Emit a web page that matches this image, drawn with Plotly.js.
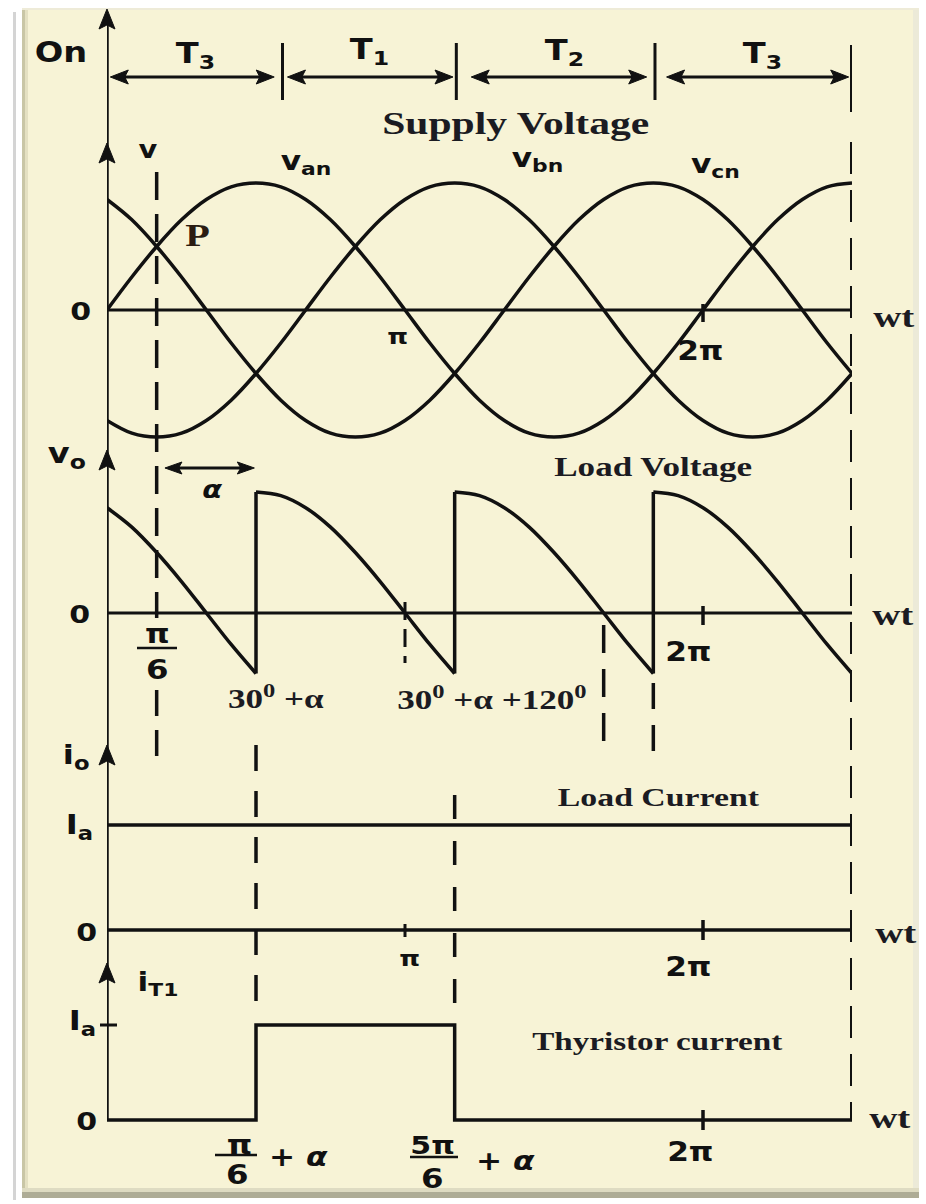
<!DOCTYPE html>
<html>
<head>
<meta charset="utf-8">
<script src="https://cdn.plot.ly/plotly-3.0.1.min.js"></script>
<style>
  html, body { margin: 0; padding: 0; background: #ffffff; }
  #chart { width: 926px; height: 1204px; }
  /* the lettering of this figure is set wide */
  #chart text.annotation-text { transform-box: fill-box; transform-origin: center; transform: scaleX(1.2); }
  #chart text.annotation-text[style*="Liberation Serif"] { transform: scaleX(1.3); }
</style>
</head>
<body>
<div id="chart"></div>
<script>
// Electrical angle samples (degrees) for the three phase voltages, per unit of peak
const angleDeg = [0, 15, 30, 45, 60, 75, 90, 105, 120, 135, 150, 165, 180, 195, 210, 225,
                  240, 255, 270, 285, 300, 315, 330, 345, 360, 375, 390, 405, 420, 435, 450];
const vAN = [0, 0.26, 0.5, 0.71, 0.87, 0.97, 1, 0.97, 0.87, 0.71, 0.5, 0.26, 0, -0.26, -0.5, -0.71,
             -0.87, -0.97, -1, -0.97, -0.87, -0.71, -0.5, -0.26, 0, 0.26, 0.5, 0.71, 0.87, 0.97, 1];
const vBN = [-0.87, -0.97, -1, -0.97, -0.87, -0.71, -0.5, -0.26, 0, 0.26, 0.5, 0.71, 0.87, 0.97, 1, 0.97,
             0.87, 0.71, 0.5, 0.26, 0, -0.26, -0.5, -0.71, -0.87, -0.97, -1, -0.97, -0.87, -0.71, -0.5];
const vCN = [0.87, 0.71, 0.5, 0.26, 0, -0.26, -0.5, -0.71, -0.87, -0.97, -1, -0.97, -0.87, -0.71, -0.5, -0.26,
             0, 0.26, 0.5, 0.71, 0.87, 0.97, 1, 0.97, 0.87, 0.71, 0.5, 0.26, 0, -0.26, -0.5];

// Firing angle and the resulting firing instants: 30° + α, 30° + α + 120°, 30° + α + 240°
const alphaDeg = 60;
const firingDeg = [30 + alphaDeg, 30 + alphaDeg + 120, 30 + alphaDeg + 240];
// Phase that feeds the load in each interval (T3, T1, T2, T3)
const conductionOrder = [vCN, vAN, vBN, vCN];
// Constant load current (per unit Ia)
const loadCurrentIa = 1;
// Thyristor on-time brackets across the top, in degrees
const gateBounds = [0, 106, 211, 331, 450];
const gateNames = ['T<sub>3</sub>', 'T<sub>1</sub>', 'T<sub>2</sub>', 'T<sub>3</sub>'];

// ---- page geometry helpers (pixel -> paper) ----
const W = 926, H = 1204;
const X_LEFT = 107, X_RIGHT = 852;
const px = v => v / W;
const py = v => 1 - v / H;
const INK = '#111111';
const SANS = '"DejaVu Sans", Arial, sans-serif';
const SERIF = '"Liberation Serif", "Times New Roman", serif';
const X_END = angleDeg[angleDeg.length - 1];
const xPix = d => X_LEFT + (d / X_END) * (X_RIGHT - X_LEFT);

function yPanel(zeroPx, unitPx, topPx, botPx) {
  return {
    domain: [py(botPx), py(topPx)],
    range: [-(botPx - zeroPx) / unitPx, (zeroPx - topPx) / unitPx],
    visible: false, fixedrange: true, anchor: 'x'
  };
}

// ---- traces ----
const traces = [];
const curve = (x, y, axis, shape) => ({
  x, y, type: 'scatter', mode: 'lines', xaxis: 'x', yaxis: axis, hoverinfo: 'skip',
  line: { color: INK, width: 3.5, shape: shape || 'spline' }
});

// Supply voltages
[vAN, vBN, vCN].forEach(v => traces.push(curve(angleDeg, v, 'y')));

// Load voltage: pieces of the conducting phase between firing instants
const bounds = [angleDeg[0], ...firingDeg, X_END];
conductionOrder.forEach((wave, k) => {
  const xs = [], ys = [];
  angleDeg.forEach((a, i) => {
    if (a >= bounds[k] && a <= bounds[k + 1]) { xs.push(a); ys.push(wave[i]); }
  });
  traces.push(curve(xs, ys, 'y2'));
});
firingDeg.forEach((f, k) => {
  const i = angleDeg.indexOf(f);
  traces.push(curve([f, f], [conductionOrder[k][i], conductionOrder[k + 1][i]], 'y2', 'linear'));
});

// Load current
traces.push(curve([0, X_END], [loadCurrentIa, loadCurrentIa], 'y3', 'linear'));
traces.push(curve([0, X_END], [0, 0], 'y3', 'linear'));

// Thyristor T1 current
traces.push(curve([0, firingDeg[0], firingDeg[0], firingDeg[1], firingDeg[1], X_END],
                  [0, 0, loadCurrentIa, loadCurrentIa, 0, 0], 'y4', 'linear'));

// ---- shapes ----
const shapes = [];
const rect = (x0, y0, x1, y1, fill) => shapes.push({
  type: 'rect', xref: 'paper', yref: 'paper', layer: 'below',
  x0: px(x0), x1: px(x1), y0: py(y1), y1: py(y0), fillcolor: fill, line: { width: 0 }
});
// framed card
rect(13, 12, 16, 1200, '#d4d4d4');
rect(22, 8, 919, 1197, '#f7f3d6');
rect(22, 8, 25, 1197, '#c9c6a6');
rect(25, 8, 28, 1197, '#e4e0c2');
rect(913, 8, 919, 1197, '#ecead8');
rect(22, 1188, 919, 1192, '#dedbc2');
rect(22, 1192, 919, 1198, '#aeac96');
rect(22, 8, 919, 10, '#eeebd8');

const vline = (deg, y0, y1, width, dash) => shapes.push({
  type: 'line', xref: 'x', yref: 'paper', x0: deg, x1: deg, y0: py(y0), y1: py(y1),
  line: { color: INK, width, dash: dash || 'solid' }
});
const hzero = (axis) => shapes.push({
  type: 'line', xref: 'x', yref: axis, x0: 0, x1: X_END, y0: 0, y1: 0,
  line: { color: INK, width: 3 }
});
const hbar = (x0, x1, y, w) => shapes.push({
  type: 'line', xref: 'paper', yref: 'paper', x0: px(x0), x1: px(x1), y0: py(y), y1: py(y),
  line: { color: INK, width: w || 2.5 }
});
// filled arrowhead, tip at (x, y) in pixels
const head = (x, y, dir, len, half) => {
  let p;
  if (dir === 'up') p = [[x, y], [x - half, y + len], [x, y + len * 0.8], [x + half, y + len]];
  else if (dir === 'left') p = [[x, y], [x + len, y - half], [x + len * 0.8, y], [x + len, y + half]];
  else p = [[x, y], [x - len, y - half], [x - len * 0.8, y], [x - len, y + half]];
  shapes.push({
    type: 'path', xref: 'paper', yref: 'paper',
    path: 'M' + p.map(q => px(q[0]).toFixed(5) + ',' + py(q[1]).toFixed(5)).join(' L') + ' Z',
    fillcolor: INK, line: { color: INK, width: 1 }
  });
};
const dblArrow = (a, b, yPx, len, half, w) => {
  const xa = xPix(a), xb = xPix(b);
  hbar(xa + 4, xb - 4, yPx, w);
  head(xa, yPx, 'left', len, half);
  head(xb, yPx, 'right', len, half);
};

// vertical axis with arrowheads at the top of each trace
vline(0, 1120, 20, 3.5);
[9, 143, 450, 745, 963].forEach(tip => head(X_LEFT, tip, 'up', 20, 8));

// zero lines
hzero('y');
hzero('y2');

// conduction brackets at the top
gateBounds.slice(1, -1).forEach(b => vline(b, 43, 100, 3));
vline(X_END, 45, 112, 4);
dblArrow(gateBounds[0] + 2, gateBounds[1] - 5, 77, 18, 7, 3);
dblArrow(gateBounds[1] + 3, gateBounds[2] - 2, 77, 18, 7, 3);
dblArrow(gateBounds[2] + 9, gateBounds[3] - 5, 77, 18, 7, 3);
dblArrow(gateBounds[3] + 7, gateBounds[4] - 2, 77, 18, 7, 3);
// firing delay α
dblArrow(35, firingDeg[0] - 1, 468, 17, 6, 3);

// right-hand boundary
vline(X_END, 142, 1120, 4, '32px,16px');

// projection lines
vline(30, 172, 618, 3.5, '28px,14px');
vline(30, 690, 768, 3.5, '26px,14px');
vline(firingDeg[0], 745, 1012, 3.5, '26px,20px');
vline(firingDeg[1], 795, 1012, 3.5, '24px,22px');
vline(180, 602, 663, 3, '18px,9px');
vline(300, 625, 750, 3.5, '28px,16px');
vline(firingDeg[2], 683, 757, 3.5, '26px,16px');

// small axis ticks
vline(360, 304, 322, 3.5);
vline(360, 606, 625, 3.5);
vline(180, 924, 937, 3);
vline(360, 920, 940, 3.5);
vline(360, 1110, 1130, 3.5);
hbar(100, 117, 1025, 3);

// fraction bars
hbar(137, 177, 648);
hbar(215, 257, 1155);
hbar(410, 458, 1157);

// ---- annotations ----
const annotations = [];
const label = (text, x, y, size, opts) => {
  const o = opts || {};
  annotations.push({
    text, xref: 'paper', yref: 'paper', x: px(x), y: py(y), xanchor: 'center', yanchor: 'middle',
    showarrow: false,
    font: { family: o.family || SANS, size, color: o.color || INK, weight: o.weight || 700, style: o.style || 'normal' }
  });
};
const serif = (text, x, y, size, color) => label(text, x, y, size, { family: SERIF, color: color || '#1b1b22' });

// top strip
label('On', 61, 53, 28);
[[195, 55], [369, 52], [564, 53], [762, 55]].forEach((p, i) => label(gateNames[i], p[0], p[1], 28));

// supply voltage panel
serif('Supply Voltage', 515, 123, 32);
label('v', 148, 150, 24);
label('v<sub>an</sub>', 306, 163, 26);
label('v<sub>bn</sub>', 537, 160, 26);
label('v<sub>cn</sub>', 715, 165, 26);
serif('P', 197, 235, 31, '#2a1c12');
label('0', 80, 311, 25);
serif('wt', 894, 316, 30);
label('π', 397, 337, 22);
label('2π', 700, 351, 26);

// load voltage panel
label('v<sub>o</sub>', 67, 455, 28);
label('α', 212, 490, 24, { style: 'italic' });
serif('Load Voltage', 653, 467, 27);
label('0', 79, 614, 25);
label('π', 157, 634, 26);
label('6', 157, 669, 27);
serif('30<sup>0</sup> +α', 276, 697, 27);
serif('30<sup>0</sup> +α +120<sup>0</sup>', 492, 698, 27);
label('2π', 688, 652, 26);
serif('wt', 893, 614, 30);

// load current panel
label('i<sub>o</sub>', 76, 756, 27);
label('I<sub>a</sub>', 79, 826, 27);
label('0', 86, 932, 25);
label('π', 409, 958, 22);
label('2π', 688, 967, 26);
serif('wt', 896, 932, 30);
serif('Load Current', 658, 797, 26);

// thyristor current panel
label('i<sub>T1</sub>', 158, 983, 26);
label('I<sub>a</sub>', 82, 1022, 27);
label('0', 86, 1121, 25);
label('π', 239, 1144, 27);
label('6', 237, 1174, 27);
label('+ α', 298, 1157, 26, { style: 'italic' });
label('5π', 432, 1145, 25);
label('6', 432, 1178, 27);
label('+ α', 505, 1161, 26, { style: 'italic' });
label('2π', 690, 1152, 26);
serif('wt', 890, 1117, 30);
serif('Thyristor current', 657, 1041, 25.5);

const layout = {
  width: W, height: H,
  margin: { l: 0, r: 0, t: 0, b: 0, pad: 0 },
  paper_bgcolor: '#ffffff',
  plot_bgcolor: 'rgba(0,0,0,0)',
  showlegend: false,
  xaxis: { domain: [px(X_LEFT), px(X_RIGHT)], range: [0, X_END], visible: false, fixedrange: true },
  yaxis: yPanel(310, 127, 120, 470),
  yaxis2: yPanel(613, 121, 475, 760),
  yaxis3: yPanel(930, 105, 770, 965),
  yaxis4: yPanel(1120, 95, 985, 1150),
  shapes, annotations
};

Plotly.newPlot('chart', traces, layout, { staticPlot: true, displayModeBar: false });
</script>
</body>
</html>
